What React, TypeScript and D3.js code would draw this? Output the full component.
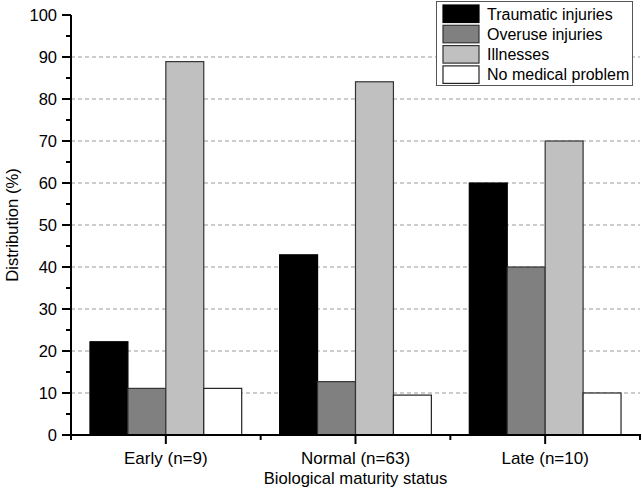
import React from "react";
import * as d3 from "d3";

const categories = ["Early (n=9)", "Normal (n=63)", "Late (n=10)"];
const seriesNames = ["Traumatic injuries", "Overuse injuries", "Illnesses", "No medical problem"];
const traumatic = [22.2, 42.9, 60];
const overuse = [11.1, 12.7, 40];
const illnesses = [88.9, 84.1, 70];
const noProblem = [11.1, 9.5, 10];
const yTicks = [0, 10, 20, 30, 40, 50, 60, 70, 80, 90, 100];
const yMinorTicks = [5, 15, 25, 35, 45, 55, 65, 75, 85, 95];

const seriesValues = [traumatic, overuse, illnesses, noProblem];
const fills = ["#000000", "#808080", "#c0c0c0", "#ffffff"];
const strokes = ["#000000", "#333333", "#333333", "#222222"];

const W = 642, H = 489;
const left = 71, right = 640, top = 15, bottom = 435;
const font = "Liberation Sans, Arial, sans-serif";

export default function App() {
  const x0 = d3.scaleBand<string>().domain(categories).range([left, right]).paddingInner(0).paddingOuter(0);
  const x1 = d3.scaleBand<string>().domain(seriesNames).range([0, x0.bandwidth()]).paddingInner(0).paddingOuter(0.5);
  const y = d3.scaleLinear().domain([0, 100]).range([bottom, top]);

  const boundaries = categories.map((c) => x0(c)!).concat([right]);

  return (
    <svg width={W} height={H} style={{ position: "absolute", left: 0, top: 0 }} fontFamily={font}>
      <rect x={0} y={0} width={W} height={H} fill="#fff" />
      {/* grid */}
      {yTicks.filter((t) => t > 0 && t < 100).map((t) => (
        <line key={"g" + t} x1={left} x2={right} y1={y(t)} y2={y(t)} stroke="#999" strokeWidth={1} strokeDasharray="4,3" />
      ))}
      {/* bars */}
      {categories.map((c, ci) => (
        <g key={c}>
          {seriesNames.map((s, si) => (
            <rect
              key={s}
              x={x0(c)! + x1(s)!}
              y={y(seriesValues[si][ci])}
              width={x1.bandwidth()}
              height={bottom - y(seriesValues[si][ci])}
              fill={fills[si]}
              stroke={strokes[si]}
              strokeWidth={1.2}
            />
          ))}
        </g>
      ))}
      {/* y axis */}
      <line x1={left} x2={left} y1={top} y2={bottom + 1} stroke="#000" strokeWidth={2} />
      {yTicks.map((t) => (
        <g key={"yt" + t}>
          <line x1={left - 9} x2={left} y1={y(t)} y2={y(t)} stroke="#000" strokeWidth={2} />
          <text x={left - 14} y={y(t)} dy="0.35em" textAnchor="end" fontSize={16.5} fill="#000">{t}</text>
        </g>
      ))}
      {yMinorTicks.map((t) => (
        <line key={"ym" + t} x1={left - 5} x2={left} y1={y(t)} y2={y(t)} stroke="#000" strokeWidth={2} />
      ))}
      {/* x axis */}
      <line x1={left - 1} x2={right + 1} y1={bottom} y2={bottom} stroke="#000" strokeWidth={2} />
      {categories.map((c) => (
        <g key={"xt" + c}>
          <line x1={x0(c)! + x0.bandwidth() / 2} x2={x0(c)! + x0.bandwidth() / 2} y1={bottom} y2={bottom + 9} stroke="#000" strokeWidth={2} />
          <text x={x0(c)! + x0.bandwidth() / 2} y={bottom + 29} textAnchor="middle" fontSize={17} fill="#000">{c}</text>
        </g>
      ))}
      {boundaries.map((b, i) => (
        <line key={"xm" + i} x1={b} x2={b} y1={bottom} y2={bottom + 5} stroke="#000" strokeWidth={2} />
      ))}
      {/* axis titles */}
      <text x={(left + right) / 2} y={484} textAnchor="middle" fontSize={16.6} fill="#000">Biological maturity status</text>
      <text transform={`translate(18,${(top + bottom) / 2}) rotate(-90)`} textAnchor="middle" fontSize={16.6} fill="#000">Distribution (%)</text>
      {/* legend */}
      <g>
        <rect x={436.5} y={1.5} width={196} height={84} fill="#fff" stroke="#555" strokeWidth={1} />
        {seriesNames.map((s, i) => (
          <g key={"lg" + s}>
            <rect x={443} y={5 + i * 20.3} width={36} height={17.5} fill={fills[i]} stroke={strokes[i]} strokeWidth={1.2} />
            <text x={487} y={5 + i * 20.3 + 8.75} dy="0.36em" fontSize={16} fill="#000">{s}</text>
          </g>
        ))}
      </g>
    </svg>
  );
}
